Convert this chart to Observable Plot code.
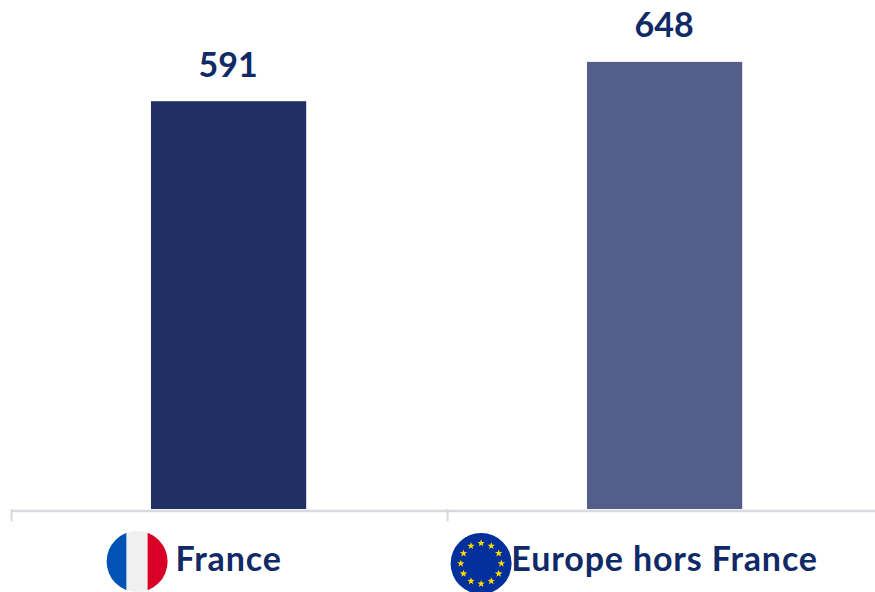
<!DOCTYPE html>
<html lang="fr">
<head>
<meta charset="utf-8">
<style>html,body{margin:0;padding:0;background:#fff;overflow:hidden}svg{display:block}</style>
<script src="https://cdn.jsdelivr.net/npm/d3@7"></script>
<script src="https://cdn.jsdelivr.net/npm/@observablehq/plot@0.6"></script>
</head>
<body>
<script>
const categories = ["France", "Europe hors France"];
const values = [591, 648];
const barColors = ["#203064", "#535f8a"];
const textColor = "#0f2a66";

const frFlag = `<svg xmlns='http://www.w3.org/2000/svg' width='62' height='62' viewBox='0 0 62 62'><defs><clipPath id='c'><circle cx='31' cy='31' r='30.5'/></clipPath></defs><g clip-path='url(#c)'><rect width='20.5' height='62' fill='#0052b4'/><rect x='20.5' width='21' height='62' fill='#f0f0f0'/><rect x='41.5' width='20.5' height='62' fill='#d80027'/></g></svg>`;
let stars = "";
for (let a = 0; a < 12; a++) {
  const t = a * Math.PI / 6;
  const cx = 31 + 20.3 * Math.sin(t), cy = 31 - 20.3 * Math.cos(t);
  const pts = [];
  for (let k = 0; k < 10; k++) {
    const r = k % 2 ? 1.6 : 3.9, p = k * Math.PI / 5;
    pts.push((cx + r * Math.sin(p)).toFixed(2) + "," + (cy - r * Math.cos(p)).toFixed(2));
  }
  stars += `<polygon points='${pts.join(" ")}' fill='#ffda00'/>`;
}
const euFlag = `<svg xmlns='http://www.w3.org/2000/svg' width='62' height='62' viewBox='0 0 62 62'><circle cx='31' cy='31' r='30.5' fill='#03309b'/>${stars}</svg>`;
const flags = [frFlag, euFlag].map(s => "data:image/svg+xml," + encodeURIComponent(s));
const flagShift = [-92, -184];
const flagDrop = [52, 54];

const idx = d3.range(categories.length);

const chart = Plot.plot({
  width: 875,
  height: 592,
  marginLeft: 11,
  marginRight: 0,
  marginTop: 0,
  marginBottom: 0,
  style: {background: "#fff", fontFamily: "Lato, sans-serif"},
  x: {domain: categories, range: [10.6, 882.6], round: false, paddingInner: 0.644, paddingOuter: 0.322, axis: null},
  y: {domain: [0, 737.7], range: [509, 0], axis: null},
  marks: [
    Plot.ruleY([0], {stroke: "#d9d9e0", strokeWidth: 2.5, dy: 1.5}),
    Plot.ruleX(categories, {x: d => d, y1: 0, y2: -18, dx: -217.5, stroke: "#d9d9d9", strokeWidth: 2}),
    Plot.barY(idx, {x: i => categories[i], y: i => values[i], fill: i => barColors[i]}),
    Plot.text(idx, {x: i => categories[i], y: i => values[i], text: i => String(values[i]), dy: -36, dx: -1, fill: textColor, fontSize: 34, fontWeight: 700}),
    Plot.text(idx, {x: i => categories[i], y: 0, text: i => categories[i], dy: 51, dx: -0.5, fill: textColor, fontSize: 34, fontWeight: 700}),
    ...idx.map(i => Plot.image([i], {x: () => categories[i], y: () => 0, src: () => flags[i], width: 62, height: 62, dx: flagShift[i], dy: flagDrop[i]}))
  ]
});
const textGroups = chart.querySelectorAll('g[aria-label="text"]');
if (textGroups[1]) textGroups[1].style.letterSpacing = "0.85px";
document.body.appendChild(chart);
</script>
</body>
</html>
